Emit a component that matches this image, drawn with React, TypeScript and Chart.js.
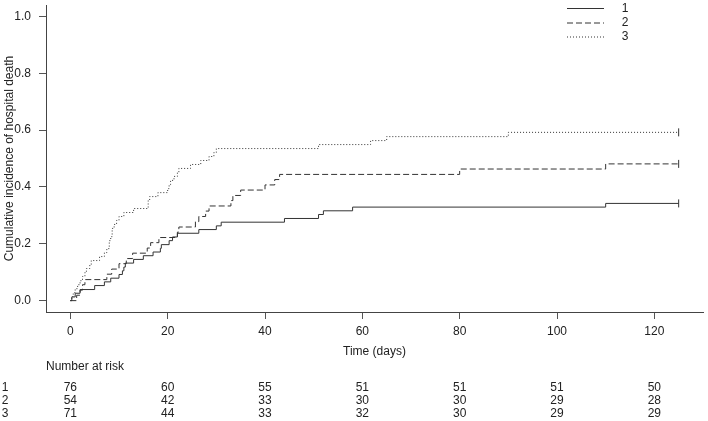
import React, { useEffect, useRef } from 'react';
import { Chart, registerables } from 'chart.js';

Chart.register(...registerables);

const timeTicks = [0, 20, 40, 60, 80, 100, 120];
const yTicks = [0, 0.2, 0.4, 0.6, 0.8, 1.0];
const groupLabels = ['1', '2', '3'];

const times1 = [0, 0.3, 1, 2, 5, 7, 8.3, 10, 10.7, 11, 11.3, 13, 15, 17, 18.5, 18.7, 20.3, 21, 22, 26.4, 30, 31, 44, 51, 52, 58, 110, 125];
const cif1 = [0, 0.013, 0.026, 0.039, 0.053, 0.066, 0.079, 0.092, 0.105, 0.118, 0.132, 0.145, 0.158, 0.171, 0.184, 0.197, 0.211, 0.224, 0.237, 0.25, 0.263, 0.276, 0.289, 0.303, 0.316, 0.329, 0.342, 0.342];

const times2 = [0, 1.3, 2, 2.5, 3, 7.5, 8.5, 10, 11.5, 12.8, 15.8, 16.5, 18.2, 22, 22.3, 25.7, 26.4, 27.8, 28.5, 33, 33.4, 35, 40, 42, 43, 80, 110, 125];
const cif2 = [0, 0.019, 0.037, 0.056, 0.074, 0.093, 0.111, 0.13, 0.148, 0.167, 0.185, 0.204, 0.222, 0.241, 0.259, 0.278, 0.296, 0.315, 0.333, 0.352, 0.37, 0.389, 0.407, 0.426, 0.444, 0.463, 0.481, 0.481];

const times3 = [0, 0.3, 0.6, 1, 1.5, 2, 2.5, 3, 3.3, 4, 4.3, 6, 7, 7.5, 8, 8.3, 8.6, 9, 9.5, 10, 11, 13, 16, 16.3, 18, 20, 20.3, 20.6, 21.3, 22, 22.3, 24.7, 26.8, 28.5, 29.5, 30, 51, 61.7, 65, 90, 125];
const cif3 = [0, 0.014, 0.028, 0.042, 0.056, 0.07, 0.085, 0.099, 0.113, 0.127, 0.141, 0.155, 0.169, 0.183, 0.211, 0.225, 0.254, 0.268, 0.282, 0.296, 0.31, 0.324, 0.352, 0.366, 0.38, 0.394, 0.408, 0.423, 0.437, 0.451, 0.465, 0.479, 0.493, 0.507, 0.521, 0.535, 0.549, 0.563, 0.577, 0.592, 0.592];

const atRisk1 = [76, 60, 55, 51, 51, 51, 50];
const atRisk2 = [54, 42, 33, 30, 30, 29, 28];
const atRisk3 = [71, 44, 33, 32, 30, 29, 29];

const FONT = '"Liberation Sans", Arial, Helvetica, sans-serif';
const TEXT = '#222';
const LINE = '#333';

const toPts = (t: number[], c: number[]) => t.map((x, i) => ({ x, y: c[i] }));

const overlay = {
  id: 'overlay',
  afterDraw(chart: any) {
    const ctx = chart.ctx as CanvasRenderingContext2D;
    const xs = chart.scales.x;
    const area = chart.chartArea;
    ctx.save();
    ctx.font = `12px ${FONT}`;
    ctx.fillStyle = TEXT;
    ctx.textAlign = 'center';
    ctx.textBaseline = 'middle';
    ctx.fillText('Time (days)', (area.left + area.right) / 2, 352);
    ctx.save();
    ctx.translate(10, (area.top + area.bottom) / 2);
    ctx.rotate(-Math.PI / 2);
    ctx.fillText('Cumulative incidence of hospital death', 0, 0);
    ctx.restore();
    ctx.textAlign = 'left';
    ctx.fillText('Number at risk', area.left, 367);
    const rows = [atRisk1, atRisk2, atRisk3];
    const rowY = [388, 401, 414];
    rows.forEach((r, i) => {
      ctx.textAlign = 'center';
      ctx.fillText(groupLabels[i], 5, rowY[i]);
      r.forEach((v, j) => {
        ctx.fillText(String(v), xs.getPixelForValue(timeTicks[j]), rowY[i]);
      });
    });
    const dashes = [[], [6, 3], [1, 2]];
    const legY = [8.5, 23, 37];
    groupLabels.forEach((g, i) => {
      ctx.beginPath();
      ctx.setLineDash(dashes[i]);
      ctx.strokeStyle = LINE;
      ctx.lineWidth = 1;
      ctx.moveTo(567, legY[i]);
      ctx.lineTo(604, legY[i]);
      ctx.stroke();
      ctx.setLineDash([]);
      ctx.textAlign = 'center';
      ctx.fillText(g, 625, legY[i]);
    });
    ctx.restore();
  },
};

export default function App() {
  const ref = useRef<HTMLCanvasElement>(null);
  useEffect(() => {
    if (!ref.current) return;
    Chart.defaults.font.family = FONT;
    const mk = (label: string, t: number[], c: number[], dash: number[]) => ({
      label,
      data: toPts(t, c),
      stepped: true,
      borderColor: LINE,
      borderWidth: 1,
      borderDash: dash,
      fill: false,
      pointStyle: 'line',
      pointRotation: 90,
      pointBorderColor: LINE,
      pointBorderWidth: 1,
      pointRadius: (ctx: any) => (ctx.dataIndex === t.length - 1 ? 4 : 0),
      pointHoverRadius: 0,
    });
    const chart = new Chart(ref.current, {
      type: 'line',
      data: {
        datasets: [
          mk('1', times1, cif1, []),
          mk('2', times2, cif2, [6, 3]),
          mk('3', times3, cif3, [1, 2]),
        ] as any,
      },
      options: {
        animation: false,
        responsive: false,
        devicePixelRatio: 1,
        layout: { padding: { left: 0, top: -3, right: 1, bottom: 0 } },
        plugins: { legend: { display: false }, tooltip: { enabled: false } },
        scales: {
          x: {
            type: 'linear',
            min: -5,
            max: 130,
            afterBuildTicks: (s: any) => { s.ticks = timeTicks.map((v) => ({ value: v })); },
            afterFit: (s: any) => { s.height = 109; s.paddingLeft = 0; s.paddingRight = 0; },
            grid: { drawOnChartArea: false, drawTicks: true, tickLength: 7, color: '#555' },
            border: { display: true, color: '#444', width: 1 },
            ticks: { padding: 5, color: TEXT, font: { size: 12 }, maxRotation: 0, autoSkip: false, callback: (v: any) => String(v) },
          },
          y: {
            type: 'linear',
            min: -0.04,
            max: 1.04,
            afterBuildTicks: (s: any) => { s.ticks = yTicks.map((v) => ({ value: v })); },
            afterFit: (s: any) => { s.width = 46; s.paddingTop = 0; s.paddingBottom = 0; },
            grid: { drawOnChartArea: false, drawTicks: true, tickLength: 7, color: '#555' },
            border: { display: true, color: '#444', width: 1 },
            ticks: { padding: 8, color: TEXT, font: { size: 12 }, autoSkip: false, callback: (v: any) => Number(v).toFixed(1) },
          },
        },
      } as any,
      plugins: [overlay],
    });
    return () => chart.destroy();
  }, []);
  return (
    <div style={{ position: 'absolute', left: 0, top: 0, width: 708, height: 421 }}>
      <canvas ref={ref} width={708} height={421} style={{ display: 'block' }} />
    </div>
  );
}
